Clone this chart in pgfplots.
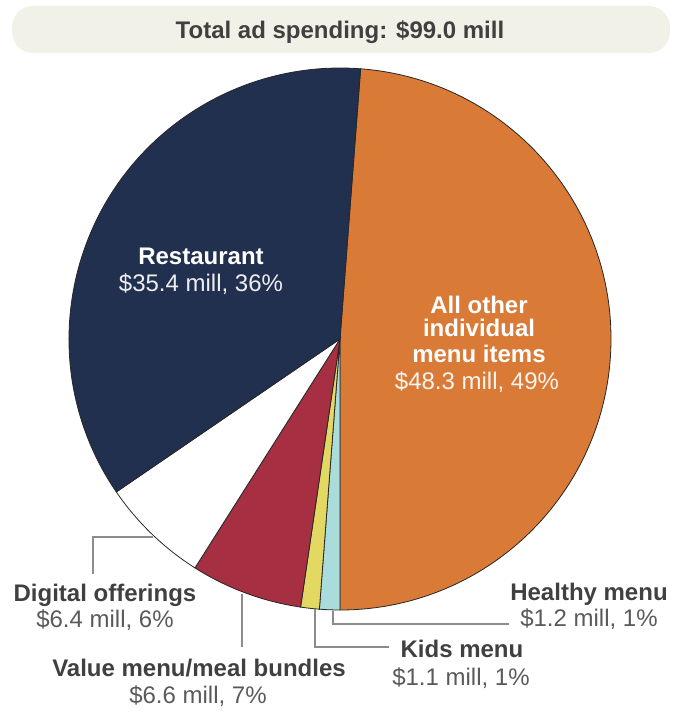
\documentclass[border=0pt]{standalone}
\usepackage{pgfplots}
\pgfplotsset{compat=1.18}
\usepackage{pgfplotstable}
\usepackage{fontspec}
\setmainfont{Liberation Sans}

\definecolor{cNavy}{HTML}{22304F}
\definecolor{cOrange}{HTML}{D97A37}
\definecolor{cRed}{HTML}{A62F42}
\definecolor{cYellow}{HTML}{E3D861}
\definecolor{cBlue}{HTML}{A9DCDA}
\definecolor{cBanner}{HTML}{F2F1E7}
\definecolor{cText}{HTML}{404040}
\definecolor{cVal}{HTML}{5A5A5A}
\definecolor{cLine}{HTML}{8C8C8C}

% spending by category, $ mill (clockwise from the top)
\pgfplotstableread{
name value color
other 48.3 cOrange
healthy 1.2 cBlue
kids 1.1 cYellow
valuemenu 6.6 cRed
digital 6.4 white
restaurant 35.4 cNavy
}\piedata
\def\total{99.0}

\tikzset{
  lbl/.style={anchor=base, inner sep=0pt, font=\fontsize{24}{28}\selectfont\bfseries},
  val/.style={anchor=base, inner sep=0pt, font=\fontsize{24}{28}\selectfont},
}

\begin{document}
\begin{tikzpicture}
\pgfplotstablegetelem{0}{value}\of\piedata
\pgfmathsetmacro\a{-90+(360/\total)*\pgfplotsretval}
\global\let\a\a
\begin{axis}[
    x=1pt, y=1pt,
    xmin=0, xmax=683, ymin=0, ymax=712,
    hide axis, clip=false, scale only axis,
]
    \path (axis cs:0,0) rectangle (axis cs:683,712);
    % title banner
    \fill[cBanner, rounded corners=21pt] (axis cs:12,706) rectangle (axis cs:670,659);
    \node[lbl, text=cText] at (axis cs:340,673) {Total ad spending: \$99.0 mill};

    % slices
    \pgfplotsforeachungrouped \i in {0,...,5}{
        \pgfplotstablegetelem{\i}{value}\of\piedata
        \let\v\pgfplotsretval
        \pgfplotstablegetelem{\i}{color}\of\piedata
        \let\c\pgfplotsretval
        \pgfmathsetmacro\b{\a-(360/\total)*\v}
        \edef\temp{\noexpand\filldraw[fill=\c, draw=black!85, line width=0.8pt]
            (axis cs:340,373) -- ++(\a:271pt)
            arc[start angle=\a, end angle=\b, radius=271pt] -- cycle;}
        \temp
        \global\let\a\b
    }

    % leader lines
    \draw[cLine, line width=1.2pt] (axis cs:153,175) -- (axis cs:93,175) -- (axis cs:93,138);
    \draw[cLine, line width=1.2pt] (axis cs:242,118) -- (axis cs:242,65);
    \draw[cLine, line width=1.2pt] (axis cs:315,103) -- (axis cs:315,65) -- (axis cs:389,65);
    \draw[cLine, line width=1.2pt] (axis cs:333,101) -- (axis cs:333,88) -- (axis cs:509,88);

    % labels inside
    \node[lbl, text=white] at (axis cs:201,447) {Restaurant};
    \node[val, text=white!92!cNavy] at (axis cs:201,420) {\$35.4 mill, 36\%};
    \node[lbl, text=white] at (axis cs:479,398) {All other};
    \node[lbl, text=white] at (axis cs:479,375) {individual};
    \node[lbl, text=white] at (axis cs:479,349) {menu items};
    \node[val, text=white!92!cOrange] at (axis cs:477,322) {\$48.3 mill, 49\%};

    % labels outside
    \node[lbl, text=cText] at (axis cs:105,110) {Digital offerings};
    \node[val, text=cVal] at (axis cs:105,84) {\$6.4 mill, 6\%};
    \node[lbl, text=cText] at (axis cs:199,35) {Value menu/meal bundles};
    \node[val, text=cVal] at (axis cs:198,9) {\$6.6 mill, 7\%};
    \node[lbl, text=cText] at (axis cs:589,111) {Healthy menu};
    \node[val, text=cVal] at (axis cs:589,85) {\$1.2 mill, 1\%};
    \node[lbl, text=cText] at (axis cs:462,54) {Kids menu};
    \node[val, text=cVal] at (axis cs:461,27) {\$1.1 mill, 1\%};
\end{axis}
\end{tikzpicture}
\end{document}
